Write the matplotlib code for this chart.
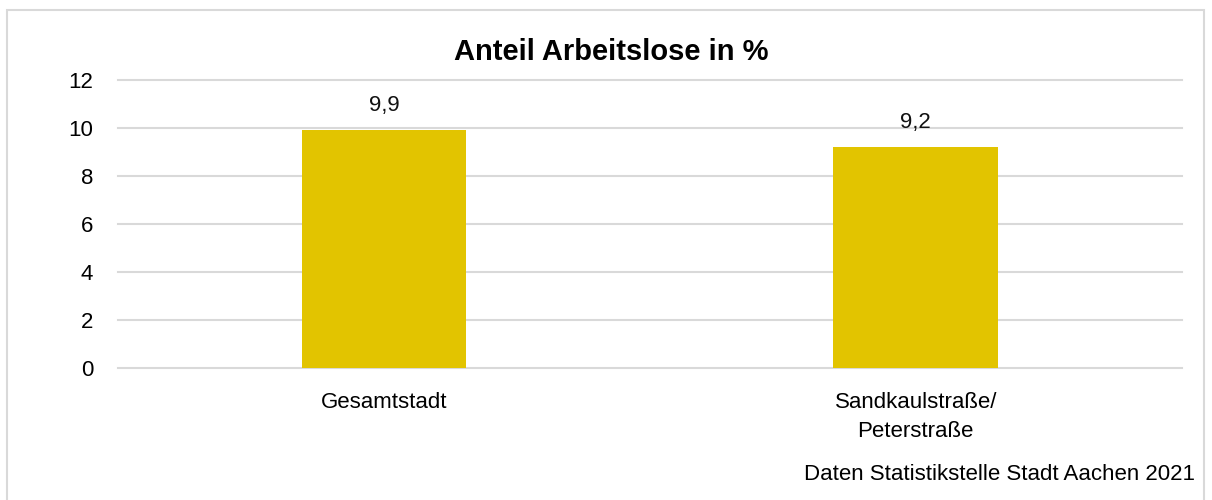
import matplotlib
matplotlib.use("Agg")
import matplotlib.pyplot as plt
from matplotlib.patches import Rectangle

kategorien = ["Gesamtstadt", "Sandkaulstraße/\nPeterstraße"]
werte = [9.9, 9.2]
wert_labels = ["9,9", "9,2"]
y_ticks = [0, 2, 4, 6, 8, 10, 12]

plt.rcParams['font.family'] = ['Liberation Sans', 'DejaVu Sans']

fig = plt.figure(figsize=(12.12, 5.0), dpi=100)
ax = fig.add_axes([0.0974, 0.264, 0.8776, 0.576])

ax.bar(range(len(werte)), werte, width=0.31, color="#E2C400", zorder=3)
for i, (v, lab) in enumerate(zip(werte, wert_labels)):
    ax.text(i, v + 0.6, lab, ha="center", va="bottom", fontsize=16, color="#111111")

ax.set_xlim(-0.5, 1.5)
ax.set_ylim(0, 12)
ax.set_yticks(y_ticks)
ax.set_yticklabels([str(t) for t in y_ticks], fontsize=16)
ax.set_xticks(range(len(kategorien)))
ax.set_xticklabels(kategorien, fontsize=16, linespacing=1.55)
ax.tick_params(axis="x", length=0, pad=17)
ax.tick_params(axis="y", length=0, pad=18)
ax.grid(axis="y", color="#D9D9D9", lw=1.5, zorder=0)
for gl in ax.get_ygridlines():
    gl.set_clip_on(False)
for s in ax.spines.values():
    s.set_visible(False)

fig.text(0.504, 0.895, "Anteil Arbeitslose in %", ha="center", va="center",
         fontsize=21, fontweight="bold")
fig.text(0.986, 0.05, "Daten Statistikstelle Stadt Aachen 2021", ha="right",
         va="center", fontsize=16)

fig.patches.append(Rectangle((7 / 1212, -0.05), 1197 / 1212, 1 - 10 / 500 + 0.05,
                             transform=fig.transFigure, fill=False,
                             edgecolor="#D9D9D9", lw=1.5))

fig.savefig("out.png", dpi=100)
